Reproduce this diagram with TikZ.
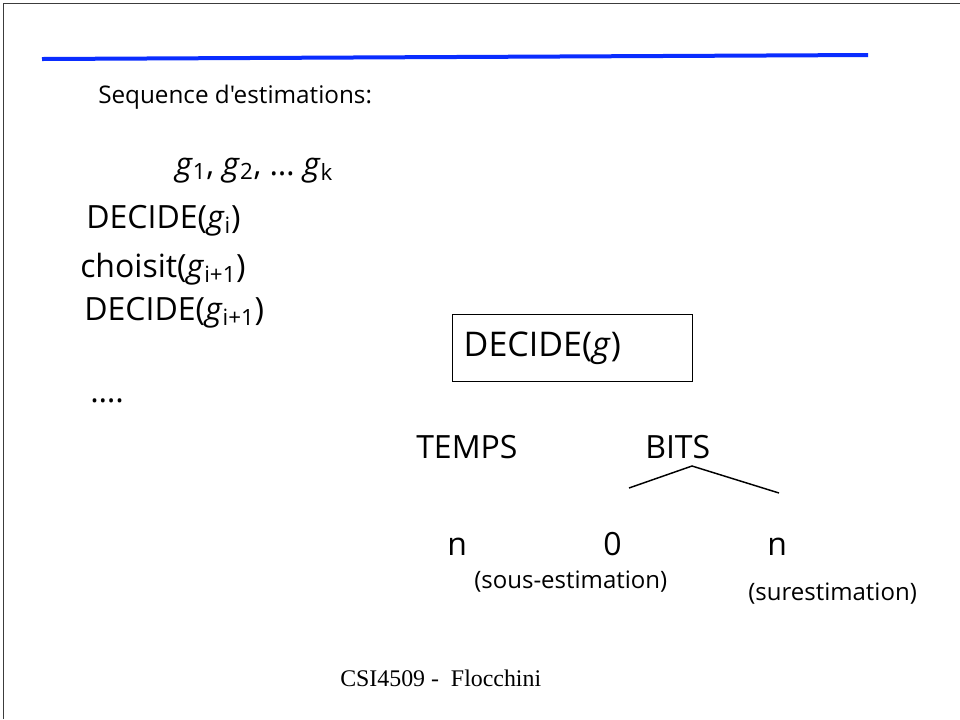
\documentclass[tikz,border=0pt]{standalone}
\usepackage{fontspec}
\setmainfont{Open Sans}
% a family without TeX ligatures, so that ' stays a straight quote
\newfontfamily\slidefont{Open Sans}
\newfontfamily\footfont{Liberation Serif}
\definecolor{rulecolor}{RGB}{10,45,255}
\definecolor{framecolor}{RGB}{60,60,60}
\newcommand\gv[1]{\textit{g}\textsubscript{#1}}
\begin{document}
\begin{tikzpicture}[x=0.75pt,y=-0.75pt,
  frame/.style={draw=framecolor, line width=1.1pt},
  headrule/.style={draw=rulecolor, line width=3pt},
  branch/.style={draw=black, line width=1.1pt},
  txt/.style={anchor=base west, inner sep=0pt, font=\slidefont\fontsize{24}{28}\selectfont},
  seqtxt/.style={txt, font=\slidefont\fontsize{18.2}{22}\selectfont},
  smalltxt/.style={txt, font=\slidefont\fontsize{18}{21}\selectfont},
  foot/.style={anchor=base west, inner sep=0pt, font=\footfont\fontsize{17.9}{21}\selectfont},
  box/.style={draw=black, line width=1.1pt, anchor=north west, align=left,
    minimum height=50.25pt, text width=163.5pt, inner xsep=8.25pt, inner ysep=0pt,
    font=\slidefont\fontsize{25.5}{30}\selectfont}]
\useasboundingbox (0,0) rectangle (960,719);

% page frame and heading rule
\draw[frame] (3.5,719) -- (3.5,3.5) -- (960,3.5);
\draw[headrule] (42,59) -- (868,55);

% sequence of estimates
\node[seqtxt] (seq) at (98,103) {Sequence d'estimations:};
\node[txt] (glist) at (175,175) {\gv{1}, \gv{2}, … \gv{k}};
\node[txt] (dec1) at (86,228) {DECIDE(\gv{i})};
\node[txt] (choix) at (80,277) {choisit(\gv{i+1})};
\node[txt] (dec2) at (84,320) {DECIDE(\gv{i+1})};
\node[txt] (dots) at (90,402) {….};

% decision procedure
\node[box] (decide) at (452,314) {DECIDE(\textit{g})};

\node[txt] (temps) at (416,458) {TEMPS};
\node[txt] (bits) at (645,458) {BITS};
\coordinate (apex) at (692,466);
\coordinate (lend) at (629,488);
\coordinate (rend) at (779,493);
\draw[branch] (lend) -- (apex) -- (rend);

\node[txt] (ntemps) at (447,555) {n};
\node[txt] (zero) at (603,555) {0};
\node[txt] (nbits) at (767,555) {n};
\node[smalltxt] (sous) at (474,588) {(sous-estimation)};
\node[smalltxt] (sur) at (748,600) {(surestimation)};

\node[foot] (footer) at (340,686) {CSI4509 -\ \ Flocchini};
\end{tikzpicture}
\end{document}
